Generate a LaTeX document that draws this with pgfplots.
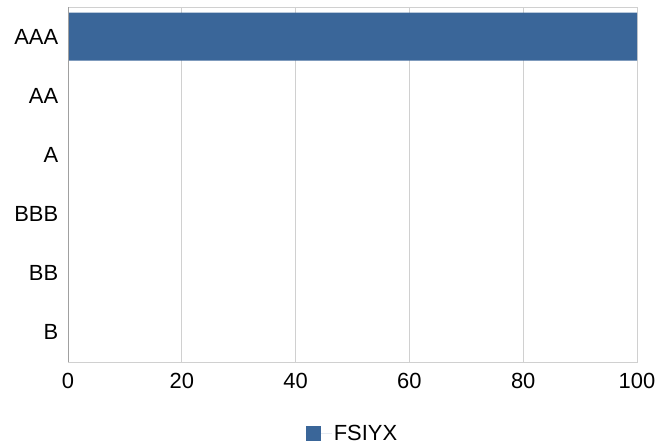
\documentclass[border=0pt]{standalone}
\usepackage{pgfplots}
\pgfplotsset{compat=1.18}
\usepackage{fontspec}
\setmainfont{Liberation Sans}
\definecolor{barblue}{HTML}{3A6699}
\definecolor{gridgray}{HTML}{D0D0D0}
\definecolor{axisgray}{HTML}{A0A0A0}

\begin{document}
\begin{tikzpicture}
\useasboundingbox (-68bp,-86bp) rectangle (588bp,362bp);
\begin{axis}[
    at={(0,0)}, anchor=south west,
    scale only axis,
    width=569bp, height=355bp,
    xbar, bar width=0.81,
    xmin=0, xmax=100,
    ymin=-0.5, ymax=5.5,
    xtick={0,20,40,60,80,100},
    ytick={0,1,2,3,4,5},
    yticklabels={B,BB,BBB,A,AA,AAA},
    xmajorgrids,
    grid style={gridgray, line width=0.8pt},
    axis line style={gridgray, line width=0.8pt},
    tick style={draw=none},
    /pgf/number format/assume math mode=true,
    tick label style={font=\fontsize{22}{26}\selectfont},
    xticklabel style={yshift=-8bp},
    yticklabel style={xshift=-2bp},
    legend style={at={(0.5,-0.165)}, anchor=north, draw=none,
        font=\fontsize{22}{26}\selectfont,
        legend cell align=left},
    legend image code/.code={\fill[#1] (0bp,-7.5bp) rectangle (15bp,7.5bp);
        \path (0bp,0bp) -- (26bp,0bp);},
]
\addplot[draw=none, fill=barblue] coordinates {
    (100,5) (0,4) (0,3) (0,2) (0,1) (0,0)
};
\addlegendentry{FSIYX}
\draw[axisgray, line width=0.8pt] (rel axis cs:0,0) -- (rel axis cs:0,1);
\end{axis}
\end{tikzpicture}
\end{document}
